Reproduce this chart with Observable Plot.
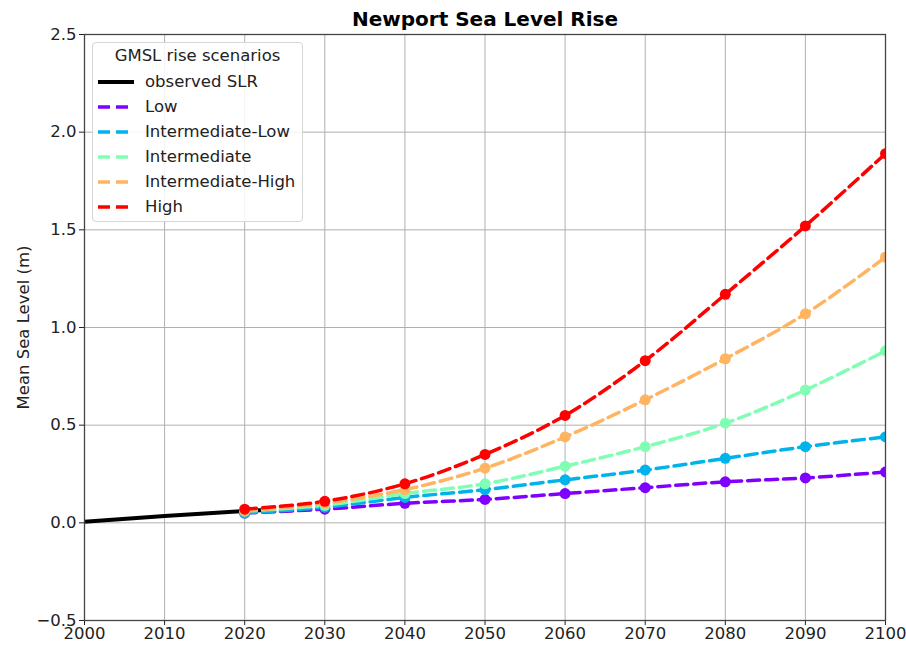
<!DOCTYPE html>
<html><head><meta charset="utf-8">
<script src="https://cdn.jsdelivr.net/npm/d3@7"></script>
<script src="https://cdn.jsdelivr.net/npm/@observablehq/plot@0.6"></script>
<style>
body{margin:0;background:#fff;font-family:"DejaVu Sans",sans-serif;}
#wrap{position:relative;width:906px;height:645px;}
#legend{position:absolute;left:92px;top:42px;width:211px;height:180px;border:1px solid #d6d6d6;border-radius:4px;background:rgba(255,255,255,0.85);box-sizing:border-box;font-size:16.5px;color:#222;}
#legend .t{position:absolute;left:0;width:100%;text-align:center;top:3px;line-height:20px;}
#legend .e{position:absolute;left:4px;height:20px;line-height:20px;white-space:nowrap;}
#legend .e svg{position:absolute;left:0;top:0;}
#legend .e span{position:absolute;left:48px;top:0;}
</style></head><body>
<div id="wrap"><div id="chart"></div><div id="legend"></div></div>
<script>
const years = [2020, 2030, 2040, 2050, 2060, 2070, 2080, 2090, 2100];
const scenarioNames = ["Low", "Intermediate-Low", "Intermediate", "Intermediate-High", "High"];
const scenarioColors = ["#8000ff", "#00b4eb", "#80ffb4", "#ffb462", "#ff0000"];
const low      = [0.05, 0.07, 0.10, 0.12, 0.15, 0.18, 0.21, 0.23, 0.26];
const intLow   = [0.05, 0.08, 0.13, 0.17, 0.22, 0.27, 0.33, 0.39, 0.44];
const inter    = [0.06, 0.09, 0.15, 0.20, 0.29, 0.39, 0.51, 0.68, 0.88];
const intHigh  = [0.06, 0.10, 0.17, 0.28, 0.44, 0.63, 0.84, 1.07, 1.36];
const high     = [0.07, 0.11, 0.20, 0.35, 0.55, 0.83, 1.17, 1.52, 1.89];
const obsYears  = [2000, 2010, 2020, 2022];
const obsValues = [0.005, 0.035, 0.06, 0.065];
const xTicks = [2000, 2010, 2020, 2030, 2040, 2050, 2060, 2070, 2080, 2090, 2100];
const yTicks = [-0.5, 0.0, 0.5, 1.0, 1.5, 2.0, 2.5];
const titleText = "Newport Sea Level Rise";
const yLabel = "Mean Sea Level (m)";
const legendTitle = "GMSL rise scenarios";
const obsLabel = "observed SLR";

const seriesValues = [low, intLow, inter, intHigh, high];
const rows = [];
scenarioNames.forEach((s, i) => years.forEach((yr, j) => rows.push({scenario: s, year: yr, value: seriesValues[i][j]})));
const obs = obsYears.map((yr, i) => ({year: yr, value: obsValues[i]}));

const chart = Plot.plot({
  width: 906, height: 645,
  marginTop: 34, marginRight: 21, marginBottom: 25, marginLeft: 84,
  style: {fontFamily: "DejaVu Sans, sans-serif", fontSize: "16.5px", color: "#222", background: "#fff"},
  x: {domain: [2000, 2100], ticks: xTicks, tickFormat: "d", label: null},
  y: {domain: [-0.5, 2.5], ticks: yTicks, tickFormat: ".1f", label: null},
  color: {domain: scenarioNames, range: scenarioColors},
  marks: [
    Plot.gridX(xTicks, {stroke: "#b0b0b0", strokeOpacity: 1, strokeWidth: 1}),
    Plot.gridY(yTicks, {stroke: "#b0b0b0", strokeOpacity: 1, strokeWidth: 1}),
    Plot.axisX({ticks: xTicks, tickFormat: "d", tickSize: 5, tickPadding: 2, label: null}),
    Plot.axisY({ticks: yTicks, tickFormat: ".1f", tickSize: 5, tickPadding: 3, label: yLabel, labelAnchor: "center", labelArrow: "none", labelOffset: 67}),
    Plot.line(obs, {x: "year", y: "value", stroke: "black", strokeWidth: 4, clip: true}),
    Plot.line(rows, {x: "year", y: "value", z: "scenario", stroke: "scenario", strokeWidth: 3.5, strokeDasharray: "12,6", curve: "catmull-rom", clip: true}),
    Plot.dot(rows, {x: "year", y: "value", fill: "scenario", r: 5.5, clip: true}),
    Plot.frame({stroke: "#444", strokeWidth: 1.3}),
    Plot.text([titleText], {frameAnchor: "top", dy: -15, lineAnchor: "middle", fontWeight: "bold", fontSize: 20, fill: "#000"})
  ]
});
document.getElementById("chart").appendChild(chart);

// legend
const lg = document.getElementById("legend");
const t = document.createElement("div"); t.className = "t"; t.textContent = legendTitle; lg.appendChild(t);
const entries = [{name: obsLabel, color: "black", dash: null, w: 4}].concat(scenarioNames.map((n, i) => ({name: n, color: scenarioColors[i], dash: "12,6", w: 3.5})));
entries.forEach((e, i) => {
  const d = document.createElement("div"); d.className = "e"; d.style.top = (29 + i * 25) + "px";
  d.innerHTML = `<svg width="40" height="20"><line x1="1" x2="37" y1="10" y2="10" stroke="${e.color}" stroke-width="${e.w}" ${e.dash ? `stroke-dasharray="${e.dash}"` : ""}/></svg><span>${e.name}</span>`;
  lg.appendChild(d);
});
</script>
</body></html>
